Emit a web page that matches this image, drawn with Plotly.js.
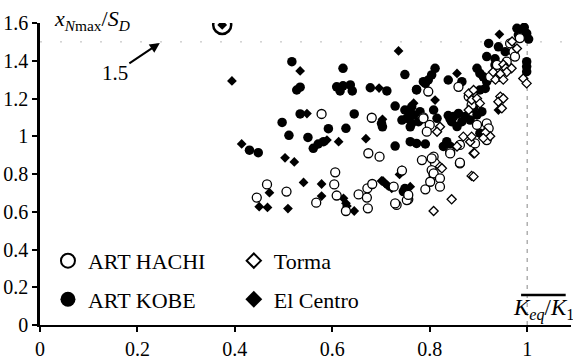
<!DOCTYPE html>
<html>
<head>
<meta charset="utf-8">
<script src="https://cdn.plot.ly/plotly-3.0.1.min.js"></script>
<style>html,body{margin:0;padding:0;background:#fff;font-family:'Liberation Serif',serif}
#chart text{font-family:'Liberation Serif',serif !important}</style>
</head>
<body>
<div id="chart" style="width:573px;height:360px"></div>
<script>
// ART HACHI (open circles)
const hachiX = [0.578,0.681,0.674,0.697,0.606,0.604,0.466,0.506,0.445,0.567,0.609,0.628,0.654,0.672,0.682,0.671,0.673,0.743,0.726,0.791,0.756,0.732,0.753,0.756,0.787,0.965,0.972,0.975,0.958,0.951,0.938,0.924,0.941,0.859,0.797,0.880,0.893,0.886,0.897,0.917,0.921,0.917,0.893,0.862,0.842,0.862,0.787,0.800,0.794,0.784,0.808,0.811,0.804,0.808,0.804,0.808,0.801,0.821,0.821,0.862,0.842,0.729,0.985];
const hachiY = [1.118,1.098,0.910,0.892,0.809,0.745,0.745,0.707,0.675,0.648,0.686,0.604,0.692,0.724,0.747,0.675,0.618,0.818,0.733,0.719,0.666,0.636,0.662,0.689,1.100,1.492,1.448,1.422,1.395,1.369,1.378,1.315,1.315,1.262,1.237,1.210,1.183,1.166,1.060,1.068,1.042,0.980,0.962,0.954,0.918,0.856,1.095,1.060,1.024,0.874,0.892,0.856,0.821,0.795,0.883,0.803,0.759,0.777,0.733,0.860,0.909,0.644,1.520];
// ART KOBE (filled circles)
const kobeX = [0.517,0.527,0.534,0.622,0.609,0.622,0.637,0.641,0.616,0.678,0.712,0.534,0.645,0.703,0.497,0.592,0.628,0.511,0.550,0.561,0.571,0.582,0.430,0.448,0.729,0.701,0.743,0.760,0.760,0.773,0.791,0.749,0.773,0.791,0.729,0.760,0.753,0.763,0.777,0.979,0.986,0.994,0.999,1.003,0.982,0.921,0.941,0.955,0.917,0.999,0.999,0.999,0.934,0.934,0.897,0.903,0.910,0.917,0.914,0.903,0.838,0.866,0.811,0.804,0.797,0.787,0.773,0.890,0.897,0.907,0.859,0.849,0.845,0.856,0.866,0.873,0.883,0.903,0.835,0.842,0.828,0.749,0.763,0.767,0.780,0.808,0.815,0.838,0.842,0.749,0.746];
const kobeY = [1.395,1.245,1.260,1.360,1.262,1.267,1.272,1.240,1.240,1.257,1.240,1.118,1.118,1.050,1.073,1.040,1.042,1.005,0.994,0.936,0.959,0.971,0.926,0.913,0.948,1.068,1.086,1.050,0.971,0.962,0.959,1.327,1.245,1.280,1.160,1.110,1.095,1.068,1.077,1.572,1.563,1.577,1.545,1.515,1.537,1.492,1.474,1.448,1.422,1.395,1.369,1.342,1.410,1.378,1.360,1.333,1.315,1.289,1.253,1.245,1.298,1.289,1.360,1.325,1.298,1.289,1.248,1.148,1.113,1.130,1.121,1.104,1.077,1.051,1.077,1.104,1.086,1.016,0.971,0.946,0.946,1.139,1.156,1.113,1.130,1.139,1.095,1.110,1.090,0.723,0.707];
// Torma (open diamonds)
const tormaX = [0.969,0.979,0.992,0.999,0.951,0.956,0.968,0.958,0.930,0.945,0.935,0.951,0.880,0.890,0.886,0.897,0.903,0.880,0.945,0.941,0.951,0.948,0.924,0.914,0.910,0.869,0.883,0.886,0.890,0.856,0.886,0.821,0.815,0.821,0.825,0.890,0.845,0.808,0.892];
const tormaY = [1.502,1.465,1.306,1.280,1.380,1.360,1.360,1.340,1.340,1.330,1.300,1.300,1.227,1.245,1.192,1.200,1.174,1.139,1.210,1.183,1.200,1.148,1.000,1.020,0.990,0.998,0.971,0.998,0.910,0.946,0.790,1.050,1.024,0.839,0.830,0.786,0.666,0.604,0.910];
// El Centro (filled diamonds)
const centroX = [0.374,0.534,0.394,0.548,0.696,0.703,0.589,0.613,0.669,0.414,0.503,0.522,0.541,0.578,0.471,0.450,0.467,0.509,0.578,0.623,0.628,0.630,0.645,0.704,0.738,0.743,0.701,0.712,0.722,0.746,0.760,0.736,0.767,0.943,0.856,0.941,0.811,0.708,0.715];
const centroY = [1.590,1.346,1.293,1.120,1.255,1.090,0.980,0.971,0.987,0.959,0.886,0.864,0.755,0.747,0.701,0.627,0.623,0.617,0.683,0.671,0.645,0.630,0.604,0.763,0.798,0.821,0.763,0.742,0.724,0.711,0.733,1.452,1.175,1.540,1.333,1.139,1.192,0.751,0.736];
// highlighted point (circled)
const markedX = [0.374];
const markedY = [1.590];
// reference levels
const refY = 1.5;
const refX = 1.0;
const tickVals = [0,0.2,0.4,0.6,0.8,1,1.2,1.4,1.6];
const xTickVals = [0,0.2,0.4,0.6,0.8,1];

const FF = 'Liberation Serif';
const ptLine = {color:'#000', width:1.3};

const traces = [
  {x:centroX, y:centroY, type:'scatter', mode:'markers', showlegend:false, hoverinfo:'skip',
   marker:{symbol:'diamond', size:7.5, color:'#000', line:{width:0}}},
  {x:kobeX, y:kobeY, type:'scatter', mode:'markers', showlegend:false, hoverinfo:'skip',
   marker:{symbol:'circle', size:9.5, color:'#000', line:{width:0}}},
  {x:hachiX, y:hachiY, type:'scatter', mode:'markers', showlegend:false, hoverinfo:'skip',
   marker:{symbol:'circle', size:9, color:'#fff', line:ptLine}},
  {x:tormaX, y:tormaY, type:'scatter', mode:'markers', showlegend:false, hoverinfo:'skip',
   marker:{symbol:'diamond', size:7, color:'#fff', line:ptLine}},
  {x:markedX, y:markedY, type:'scatter', mode:'markers', showlegend:false, hoverinfo:'skip',
   marker:{symbol:'circle-open', size:18, color:'#000', line:{width:2.5, color:'#000'}}},
  // legend entries
  {x:[null], y:[null], type:'scatter', mode:'markers', name:'ART HACHI', legend:'legend', legendgroup:'a',
   marker:{symbol:'circle', size:14, color:'#fff', line:{color:'#000', width:2}}},
  {x:[null], y:[null], type:'scatter', mode:'markers', name:'ART KOBE', legend:'legend', legendgroup:'b',
   marker:{symbol:'circle', size:15, color:'#000', line:{width:0}}},
  {x:[null], y:[null], type:'scatter', mode:'markers', name:'Torma', legend:'legend2', legendgroup:'c',
   marker:{symbol:'diamond', size:11, color:'#fff', line:{color:'#000', width:2}}},
  {x:[null], y:[null], type:'scatter', mode:'markers', name:'El Centro', legend:'legend2', legendgroup:'d',
   marker:{symbol:'diamond', size:13, color:'#000', line:{width:0}}}
];

function legendOpts(xpos) {
  return {font:{family:FF, size:22, color:'#000'}, bgcolor:'rgba(0,0,0,0)', borderwidth:0,
    orientation:'v', yanchor:'top', xanchor:'left', tracegroupgap:7, x:xpos, y:0.282};
}

const layout = {
  width:573, height:360,
  margin:{l:40, r:2, t:23, b:35, pad:0},
  paper_bgcolor:'#fff', plot_bgcolor:'#fff',
  font:{family:FF, size:20, color:'#000'},
  xaxis:{range:[0,1.09], tickvals:xTickVals, showgrid:false, zeroline:false, showline:true, linecolor:'#000', linewidth:2,
    ticks:'outside', ticklen:5, tickwidth:1.5, tickcolor:'#000', tickfont:{family:FF, size:20, color:'#000'}},
  yaxis:{range:[0,1.6], tickvals:tickVals, showgrid:false, zeroline:false, showline:true, linecolor:'#000', linewidth:2.5,
    ticks:'outside', ticklen:5, tickwidth:1.5, tickcolor:'#000', tickfont:{family:FF, size:20, color:'#000'}},
  legend:legendOpts(0.015),
  legend2:legendOpts(0.365),
  shapes:[
    {type:'line', xref:'paper', yref:'y', x0:0, x1:1, y0:refY, y1:refY, line:{color:'#bbb', width:1, dash:'2px,18px'}, layer:'below'},
    {type:'line', xref:'x', yref:'y', x0:refX, x1:refX, y0:0, y1:refY, line:{color:'#888', width:1, dash:'4px,5px'}, layer:'below'},
    {type:'line', xref:'paper', yref:'paper', x0:0.906, x1:0.99, y0:0.099, y1:0.099, line:{color:'#000', width:2.5}}
  ],
  annotations:[
    {xref:'paper', yref:'paper', x:0.022, y:1.01, xanchor:'left', yanchor:'middle', showarrow:false,
     text:'<i>x</i><sub><i>N</i>max</sub>/<i>S</i><sub><i>D</i></sub>', font:{family:FF, size:22, color:'#000'}},
    {xref:'paper', yref:'paper', x:0.948, y:0.05, xanchor:'center', yanchor:'middle', showarrow:false,
     text:'<i>K<sub>eq</sub></i>/<i>K</i><sub>1</sub>', font:{family:FF, size:23, color:'#000'}},
    {xref:'x', yref:'y', x:0.246, y:1.494, showarrow:true, axref:'pixel', ayref:'pixel', ax:-45, ay:30,
     arrowhead:2, arrowsize:1, arrowwidth:2, arrowcolor:'#000', text:'1.5', font:{family:FF, size:21, color:'#000'}}
  ]
};

Plotly.newPlot('chart', traces, layout, {displayModeBar:false});
</script>
</body>
</html>
